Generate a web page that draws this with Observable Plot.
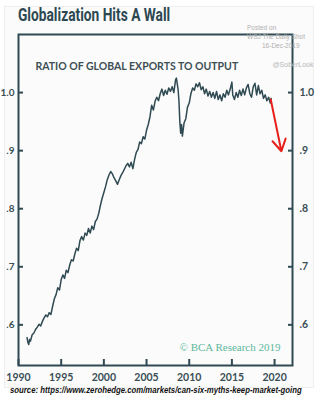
<!DOCTYPE html>
<html>
<head>
<meta charset="utf-8">
<script src="https://cdn.jsdelivr.net/npm/d3@7"></script>
<script src="https://cdn.jsdelivr.net/npm/@observablehq/plot@0.6"></script>
<style>
  html, body { margin: 0; padding: 0; background: #fff; }
  #wrap { position: relative; width: 324px; height: 400px; overflow: hidden; background: #fff; }
  #panel { position: absolute; left: 4px; top: 6px; width: 308px; height: 380px; background: #fbfbfb; border: 1px solid #eeeeee; }
  #chart { position: absolute; left: 0; top: 0; }
  .abs { position: absolute; white-space: nowrap; }
  #title { left: 18px; top: 4px; font-family: Roboto, sans-serif; font-weight: 700; font-size: 18px; color: #2c4851; transform-origin: left top; }
  .posted { font-family: "Liberation Sans", sans-serif; font-size: 6.5px; color: #b0b0b0; }
  #source { left: 10px; top: 385px; font-family: "Liberation Sans", sans-serif; font-style: italic; font-weight: 700; font-size: 9px; color: #111; transform-origin: left top; }
</style>
</head>
<body>
<div id="wrap">
  <div id="panel"></div>
  <div id="chart" class="abs"></div>
  <div id="title" class="abs">Globalization Hits A Wall</div>
  <div class="abs posted" style="left:247px; top:24px;">Posted on</div>
  <div class="abs posted" style="left:247px; top:33px;">WSJ The Daily Shot</div>
  <div class="abs posted" style="left:262px; top:42px;">16-Dec-2019</div>
  <div id="source" class="abs">source: https://www.zerohedge.com/markets/can-six-myths-keep-market-going</div>
</div>
<script>
const years = [
  1991.0,1991.1,1991.2,1991.3,1991.4,1991.6,1991.8,1992.0,1992.2,1992.4,1992.6,1992.8,
  1993.0,1993.2,1993.4,1993.6,1993.8,1994.0,1994.2,1994.4,1994.6,1994.8,1995.0,1995.2,
  1995.4,1995.6,1995.8,1996.0,1996.2,1996.4,1996.6,1996.8,1997.0,1997.2,1997.4,1997.6,
  1997.8,1998.0,1998.2,1998.4,1998.6,1998.8,1999.0,1999.2,1999.4,1999.6,1999.8,2000.0,
  2000.2,2000.4,2000.6,2000.8,2001.0,2001.2,2001.4,2001.6,2001.8,2002.0,2002.2,2002.4,
  2002.6,2002.8,2003.0,2003.2,2003.4,2003.6,2003.8,2004.0,2004.2,2004.4,2004.6,2004.8,
  2005.0,2005.2,2005.4,2005.6,2005.8,2006.0,2006.2,2006.4,2006.6,2006.8,2007.0,2007.2,
  2007.4,2007.6,2007.8,2008.0,2008.2,2008.4,2008.5,2008.7,2008.8,2008.9,2009.0,2009.1,
  2009.2,2009.4,2009.6,2009.8,2010.0,2010.2,2010.4,2010.6,2010.8,2011.0,2011.2,2011.4,
  2011.6,2011.8,2012.0,2012.2,2012.4,2012.6,2012.8,2013.0,2013.2,2013.4,2013.6,2013.8,
  2014.0,2014.2,2014.4,2014.6,2014.8,2015.0,2015.1,2015.3,2015.5,2015.7,2015.9,2016.1,
  2016.3,2016.5,2016.7,2016.9,2017.1,2017.3,2017.5,2017.7,2017.9,2018.1,2018.3,2018.5,
  2018.7,2018.9,2019.1,2019.3,2019.5,2019.6
];
const ratio = [
  0.578,0.570,0.566,0.575,0.572,0.583,0.586,0.592,0.596,0.601,0.598,0.606,
  0.612,0.617,0.614,0.621,0.618,0.632,0.645,0.652,0.664,0.660,0.678,0.686,
  0.680,0.694,0.690,0.703,0.712,0.710,0.722,0.732,0.728,0.745,0.752,0.746,
  0.758,0.754,0.766,0.758,0.770,0.764,0.778,0.782,0.792,0.806,0.818,0.828,
  0.838,0.850,0.858,0.864,0.860,0.853,0.848,0.842,0.850,0.857,0.862,0.868,
  0.874,0.878,0.872,0.880,0.869,0.885,0.897,0.902,0.915,0.912,0.924,0.920,
  0.935,0.945,0.958,0.978,0.970,0.985,0.992,0.986,0.998,1.006,0.995,1.004,
  0.997,1.008,1.002,1.010,1.000,1.022,1.025,1.005,0.985,0.950,0.930,0.945,
  0.925,0.948,0.955,0.975,0.982,0.998,1.008,1.004,1.015,1.010,1.017,1.005,
  1.010,0.998,1.006,0.994,1.002,0.992,1.000,0.990,1.002,0.988,0.996,0.986,
  0.998,0.992,1.004,0.996,1.006,1.018,0.996,0.988,1.000,0.992,1.004,0.995,
  1.006,0.996,1.008,1.014,0.998,0.992,1.010,1.016,0.996,1.012,0.998,1.004,
  0.990,0.996,0.986,0.992,0.982,0.990
];
const xTicks = [1990, 1995, 2000, 2005, 2010, 2015, 2020];
const yTicks = [0.6, 0.7, 0.8, 0.9, 1.0];
const arrowFrom = {year: 2019.55, value: 0.988};
const arrowTo = {year: 2020.8, value: 0.899};
const chartTitle = "RATIO OF GLOBAL EXPORTS TO OUTPUT";
const handle = "@SoberLook";
const credit = "© BCA Research 2019";

const data = years.map((y, i) => ({year: y, value: ratio[i]}));
const yFmt = d => d3.format(".1f")(d).replace(/^0/, "");
const ink = "#2f4a52";
const tickFont = {fontFamily: "Lato, sans-serif", fontWeight: 700, fontSize: 10.5, fill: "#3a4e55"};

const plot = Plot.plot({
  width: 324,
  height: 400,
  marginTop: 34,
  marginLeft: 18,
  marginRight: 32,
  marginBottom: 35,
  style: {background: "transparent", overflow: "visible"},
  x: {domain: [1990, 2022.1]},
  y: {domain: [0.53, 1.1]},
  marks: [
    Plot.frame({stroke: ink, strokeWidth: 2}),
    Plot.axisX({ticks: xTicks, tickFormat: d => String(d), tickSize: -6, tickPadding: 14, stroke: ink, strokeWidth: 2, label: null, ...tickFont}),
    Plot.axisY({anchor: "left", ticks: yTicks, tickFormat: yFmt, tickSize: -5, tickPadding: 9, stroke: ink, strokeWidth: 2, label: null, ...tickFont, fontSize: 10}),
    Plot.axisY({anchor: "right", ticks: yTicks, tickFormat: yFmt, tickSize: -5, tickPadding: 12, stroke: ink, strokeWidth: 2, label: null, ...tickFont}),
    Plot.line(data, {x: "year", y: "value", stroke: ink, strokeWidth: 1.5}),
    Plot.arrow([{x1: arrowFrom.year, y1: arrowFrom.value, x2: arrowTo.year, y2: arrowTo.value}],
      {x1: "x1", y1: "y1", x2: "x2", y2: "y2", stroke: "#e8201c", strokeWidth: 2, headLength: 10}),
    Plot.text([chartTitle], {frameAnchor: "top-left", dx: 17, dy: 28, text: d => d, textAnchor: "start",
      fontFamily: "Lato, sans-serif", fontWeight: 700, fontSize: 10.5, fill: "#3d4f55"}),
    Plot.text([handle], {frameAnchor: "top-right", dx: -20, dy: 28, text: d => d, textAnchor: "start",
      fontFamily: "Liberation Sans, sans-serif", fontSize: 7, fill: "#b8b8b8"}),
    Plot.text([credit], {frameAnchor: "bottom-right", dx: -12, dy: -15, text: d => d, textAnchor: "end",
      fontFamily: "Liberation Serif, serif", fontSize: 11, fill: "#5cb89c"})
  ]
});
document.getElementById("chart").appendChild(plot);

// fit wide texts to the reference widths
function fit(id, w) {
  const el = document.getElementById(id);
  el.style.transform = `scaleX(${w / el.offsetWidth})`;
}
fit("title", 152);
fit("source", 292);
</script>
</body>
</html>
